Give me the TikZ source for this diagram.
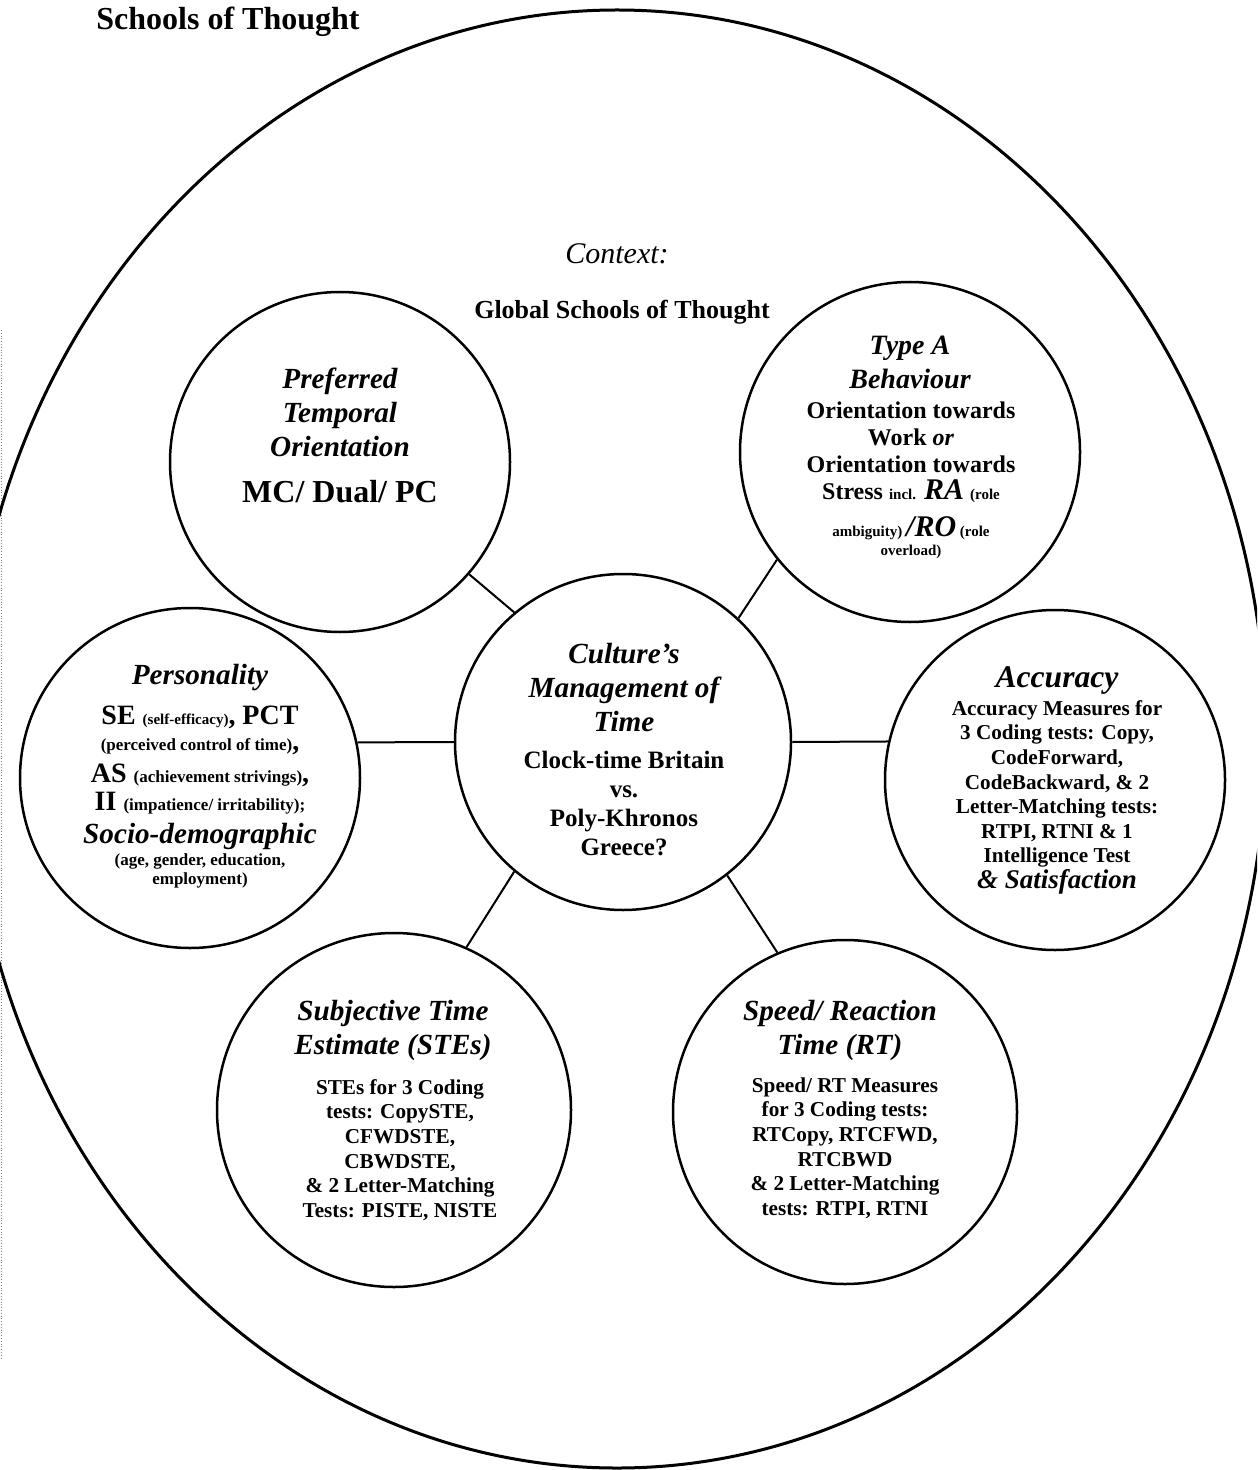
\documentclass[tikz,border=0pt]{standalone}
\usepackage{fontspec}
\setmainfont{Liberation Serif}
\newcommand{\smallbf}{\fontsize{7.5}{9}\selectfont\bfseries}
\newcommand{\midbf}{\fontsize{8.5}{9.5}\selectfont\bfseries}
\begin{document}
\begin{tikzpicture}[x=0.5pt,y=-0.5pt,
  ring/.style={circle,draw,line width=1.25pt,minimum size=#1,inner sep=0pt},
  link/.style={line width=1pt},
  hd/.style={font=\fontsize{14.6}{17}\selectfont\bfseries\itshape,align=center,inner sep=0pt},
  bd/.style={font=\fontsize{12.5}{14.5}\selectfont\bfseries,align=center,inner sep=0pt},
  bdsmall/.style={font=\fontsize{10.6}{12.3}\selectfont\bfseries,align=center,inner sep=0pt},
  plain/.style={align=center,inner sep=0pt}]
\useasboundingbox (0,0) rectangle (1257,1470);

% faint page edge on the left
\coordinate (edgetop) at (1,330);
\coordinate (edgebot) at (1,1360);
\draw[gray,line width=0.4pt,densely dotted] (edgetop) -- (edgebot);

% outer context ellipse, cut off by the page edges
\begin{scope}
  \clip (0,0) rectangle (1257,1470);
  \draw[line width=1.5pt] (617,739) ellipse [x radius=324.5pt, y radius=364.5pt];
\end{scope}

% headings
\node[plain,font=\fontsize{16}{19}\selectfont\bfseries] (title) at (228,22) {Schools of Thought};
\node[plain,font=\fontsize{15}{18}\selectfont\itshape] (context) at (617,254) {Context:};
\node[plain,font=\fontsize{13}{15}\selectfont\bfseries] (global) at (622,312) {Global Schools of Thought};

% circles
\node[ring=168pt] (c) at (623,742) {};
\node[ring=170pt] (pref) at (340,462) {};
\node[ring=170pt] (typea) at (910,452) {};
\node[ring=170pt] (pers) at (190,778) {};
\node[ring=170pt] (acc) at (1055,780) {};
\node[ring=177pt] (subj) at (394,1110) {};
\node[ring=172pt] (speed) at (845,1112) {};

% connectors
\draw[link] (c.130) -- (pref.-41);
\draw[link] (c.47) -- (typea.219);
\draw[link] (c.180) -- (pers.12);
\draw[link] (c.0) -- (acc.167.4);
\draw[link] (c.230.5) -- (subj.66.5);
\draw[link] (c.-52.5) -- (speed.113.6);

% centre
\node[hd] (ch) at (624,688) {Culture’s\\Management of\\Time};
\node[bd] (cb) at (624,803) {Clock-time Britain\\vs.\\Poly-Khronos\\Greece?};

% preferred temporal orientation
\node[hd] (prefh) at (340,412) {Preferred\\Temporal\\Orientation};
\node[plain,font=\fontsize{16}{19}\selectfont\bfseries] (prefb) at (340,492) {MC/ Dual/ PC};

% type A behaviour
\node[hd,font=\fontsize{14}{17}\selectfont\bfseries\itshape] (typeh) at (910,362) {Type A\\Behaviour};
\node[plain,font=\fontsize{12}{13.5}\selectfont\bfseries] (typeb) at (911,437) {Orientation towards\\Work \textit{or}\\Orientation towards};
\node[plain,font=\fontsize{12}{13.5}\selectfont\bfseries] (typel4) at (911,491) {Stress {\smallbf incl.} {\fontsize{15}{17}\selectfont\itshape RA} {\smallbf (role}};
\node[plain,font=\smallbf] (typel5) at (911,528) {ambiguity) {\fontsize{15}{17}\selectfont\itshape /RO} (role};
\node[plain,font=\smallbf] (typel6) at (911,552) {overload)};

% personality
\node[hd] (persh) at (200,678) {Personality};
\node[plain,font=\fontsize{14}{16}\selectfont\bfseries] (pers1) at (200,717) {SE {\smallbf (self-efficacy)}, PCT};
\node[plain,font=\midbf] (pers2) at (200,747) {(perceived control of time){\fontsize{14}{16}\selectfont,}};
\node[plain,font=\fontsize{14}{16}\selectfont\bfseries] (pers3) at (200,775) {AS {\midbf (achievement strivings)},};
\node[plain,font=\fontsize{14}{16}\selectfont\bfseries] (pers4) at (200,803) {II {\midbf (impatience/ irritability);}};
\node[hd] (pers5) at (200,836) {Socio-demographic};
\node[plain,font=\midbf] (pers6) at (200,871) {(age, gender, education,\\employment)};

% accuracy
\node[hd,font=\fontsize{15.8}{18}\selectfont\bfseries\itshape] (acch) at (1057,680) {Accuracy};
\node[bdsmall] (accb) at (1057,784) {Accuracy Measures for\\3 Coding tests: Copy,\\CodeForward,\\CodeBackward, \& 2\\Letter-Matching tests:\\RTPI, RTNI \& 1\\Intelligence Test};
\node[hd,font=\fontsize{13.5}{16}\selectfont\bfseries\itshape] (accs) at (1057,882) {\& Satisfaction};

% subjective time estimate
\node[hd] (subh) at (393,1030) {Subjective Time\\Estimate (STEs)};
\node[bdsmall] (subb) at (400,1150) {STEs for 3 Coding\\tests: CopySTE,\\CFWDSTE,\\CBWDSTE,\\\& 2 Letter-Matching\\Tests: PISTE, NISTE};

% speed / reaction time
\node[hd] (sph) at (840,1030) {Speed/ Reaction\\Time (RT)};
\node[bdsmall] (spb) at (845,1148) {Speed/ RT Measures\\for 3 Coding tests:\\RTCopy, RTCFWD,\\RTCBWD\\\& 2 Letter-Matching\\tests: RTPI, RTNI};
\end{tikzpicture}
\end{document}
